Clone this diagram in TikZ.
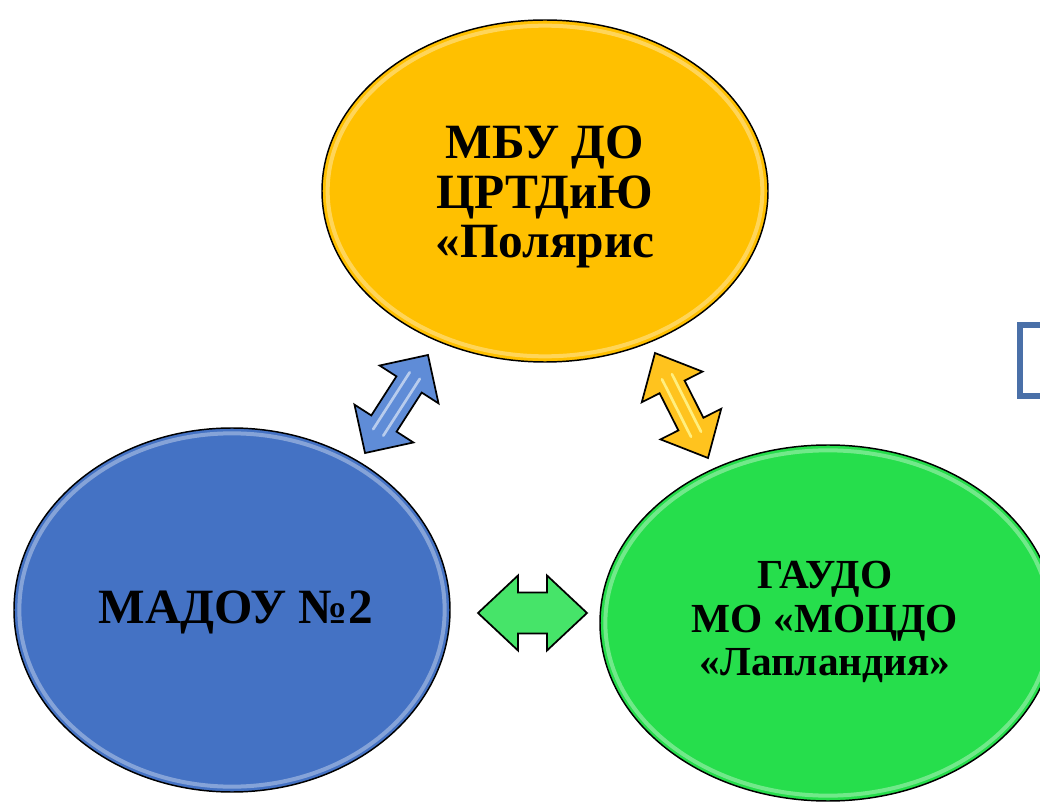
\documentclass[tikz,border=0pt]{standalone}
\usepackage{fontspec}
\setmainfont{Liberation Serif}
\usetikzlibrary{shapes.geometric}
\definecolor{cyellow}{RGB}{255,192,0}
\definecolor{cblue}{RGB}{68,114,196}
\definecolor{cgreen}{RGB}{38,222,76}
\definecolor{bracketblue}{RGB}{74,112,168}
\definecolor{ablue}{RGB}{95,140,215}
\definecolor{ayellow}{RGB}{255,195,30}
\definecolor{agreen}{RGB}{70,228,105}
\tikzset{
  circ/.style={ellipse, draw=black, line width=1.1pt, inner sep=0pt, align=center, text=black},
  bigtxt/.style={font=\fontsize{37}{37}\selectfont\bfseries},
  smalltxt/.style={font=\fontsize{31}{32.5}\selectfont\bfseries},
  rim/.style={ellipse, draw=white, draw opacity=0.35, line width=3pt, inner sep=0pt},
  arrowbox/.style={draw=black, line width=1.3pt, line join=miter},
}
\newcommand\dblarrow[9]{%
\begin{scope}[shift={(#1,#2)},rotate=#3]
\draw[arrowbox, fill=#8] ({-#4/2},0) -- ({-#4/2+#7},{#5/2}) -- ({-#4/2+#7},{#6/2}) -- ({#4/2-#7},{#6/2}) -- ({#4/2-#7},{#5/2}) -- ({#4/2},0) -- ({#4/2-#7},{-#5/2}) -- ({#4/2-#7},{-#6/2}) -- ({-#4/2+#7},{-#6/2}) -- ({-#4/2+#7},{-#5/2}) -- cycle;
\draw[#9, line width=2pt, line cap=round, opacity=0.8] ({-#4/2+#7*0.7},{#6/5}) -- ({#4/2-#7*0.7},{#6/5});
\draw[#9, line width=2pt, line cap=round, opacity=0.8] ({-#4/2+#7*0.7},{-#6/5}) -- ({#4/2-#7*0.7},{-#6/5});
\end{scope}}
\begin{document}
\begin{tikzpicture}[x=0.75pt, y=-0.75pt]
\useasboundingbox (0,0) rectangle (1040,802);
\clip (0,0) rectangle (1040,802);
% ellipses
\node[circ, fill=cyellow, minimum width=334.5pt, minimum height=256.5pt] (polaris) at (545,191) {};
\node[rim, minimum width=326pt, minimum height=248pt] (polrim) at (545,191) {};
\node[bigtxt, align=center] (poltxt) at (545,197) {МБУ ДО\\ЦРТДиЮ\\«Полярис};
\node[circ, fill=cblue, minimum width=327pt, minimum height=273pt] (madou) at (232,610) {};
\node[rim, minimum width=319pt, minimum height=265pt] (madrim) at (232,610) {};
\node[bigtxt] (madtxt) at (236,612) {МАДОУ №2};
\node[circ, fill=cgreen, minimum width=342pt, minimum height=267pt] (lapl) at (828,623) {};
\node[rim, minimum width=334pt, minimum height=259pt] (laprim) at (828,623) {};
\node[smalltxt, align=center] (laptxt) at (825,622) {ГАУДО\\МО «МОЦДО\\«Лапландия»};
% arrows
\dblarrow{396.5}{404}{57.3}{116.5}{70}{30}{35}{ablue}{white!70!ablue}
\dblarrow{681.5}{405.5}{116.8}{117.6}{68}{28}{38}{ayellow}{yellow!40!white}
\dblarrow{532.5}{613}{0}{109}{75}{41}{40}{agreen}{agreen}
% bracket at right edge
\draw[bracketblue, line width=4.5pt] (1050,325.5) -- (1020,325.5) -- (1020,396) -- (1050,396);
\end{tikzpicture}
\end{document}
